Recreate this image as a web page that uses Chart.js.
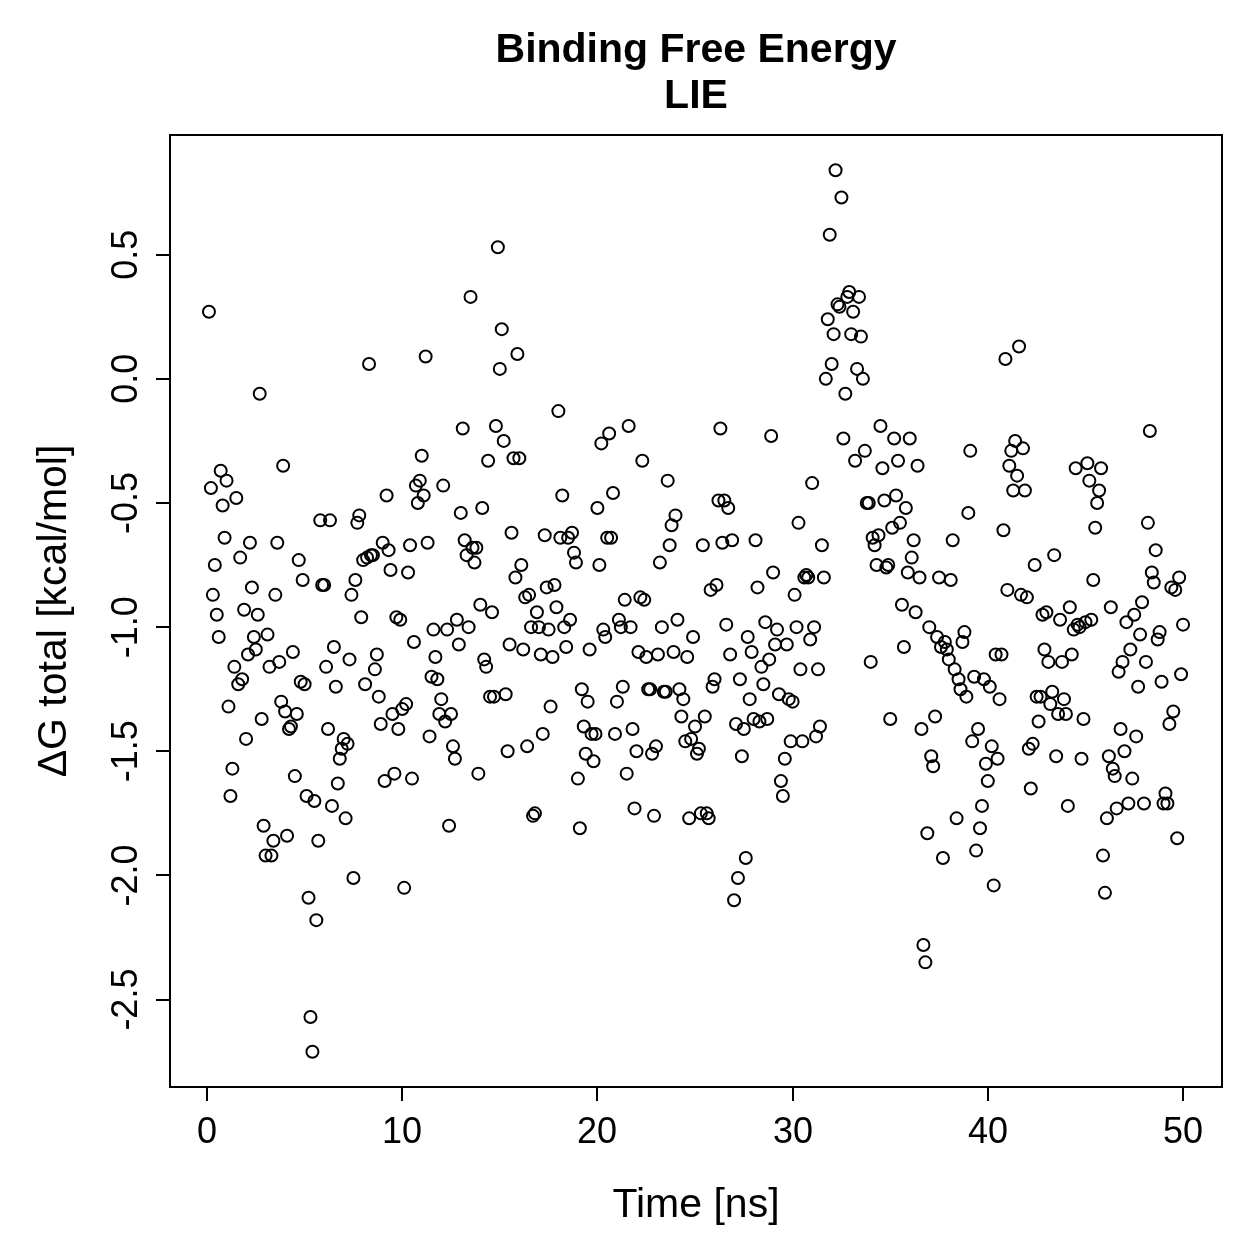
<!DOCTYPE html>
<html>
<head>
<meta charset="utf-8">
<script src="https://cdn.jsdelivr.net/npm/chart.js@4.4.1/dist/chart.umd.min.js"></script>
<style>
  html, body { margin: 0; padding: 0; background: #fff; }
  #wrap { width: 1259px; height: 1259px; }
</style>
</head>
<body>
<div id="wrap"><canvas id="chart" width="1259" height="1259"></canvas></div>
<script>
const TITLE = ["Binding Free Energy", "LIE"]
const X_LABEL = "Time [ns]"
const Y_LABEL = "ΔG total [kcal/mol]"
const X_TICKS = [0, 10, 20, 30, 40, 50]
const Y_TICKS = [-2.5, -2.0, -1.5, -1.0, -0.5, 0.0, 0.5]

// one frame every 0.1 ns
const SAMPLE_STEP_NS = 0.1

// ΔG total per frame, kcal/mol
const DG_TOTAL = [
  0.27, -0.44, -0.87, -0.75, -0.95, -1.04, -0.37, -0.51, -0.64, -0.41,
  -1.32, -1.68, -1.57, -1.16, -0.48, -1.23, -0.72, -1.21, -0.93, -1.45,
  -1.11, -0.66, -0.84, -1.04, -1.09, -0.95, -0.06, -1.37, -1.80, -1.92,
  -1.03, -1.16, -1.92, -1.86, -0.87, -0.66, -1.14, -1.30, -0.35, -1.34,
  -1.84, -1.41, -1.40, -1.10, -1.60, -1.35, -0.73, -1.22, -0.81, -1.23,
  -1.68, -2.09, -2.57, -2.71, -1.70, -2.18, -1.86, -0.57, -0.83, -0.83,
  -1.16, -1.41, -0.57, -1.72, -1.08, -1.24, -1.63, -1.53, -1.49, -1.45,
  -1.77, -1.47, -1.13, -0.87, -2.01, -0.81, -0.58, -0.55, -0.96, -0.73,
  -1.23, -0.72, 0.06, -0.71, -0.71, -1.17, -1.11, -1.28, -1.39, -0.66,
  -1.62, -0.47, -0.69, -0.77, -1.35, -1.59, -0.96, -1.41, -0.97, -1.33,
  -2.05, -1.31, -0.78, -0.67, -1.61, -1.06, -0.43, -0.50, -0.41, -0.31,
  -0.47, 0.09, -0.66, -1.44, -1.20, -1.01, -1.12, -1.21, -1.35, -1.29,
  -0.43, -1.38, -1.01, -1.80, -1.35, -1.48, -1.53, -0.97, -1.07, -0.54,
  -0.20, -0.65, -0.71, -1.00, 0.33, -0.68, -0.74, -0.68, -1.59, -0.91,
  -0.52, -1.13, -1.16, -0.33, -1.28, -0.94, -1.28, -0.19, 0.53, 0.04,
  0.20, -0.25, -1.27, -1.50, -1.07, -0.62, -0.32, -0.80, 0.10, -0.32,
  -0.75, -1.09, -0.88, -1.48, -0.87, -1.00, -1.76, -1.75, -0.94, -1.00,
  -1.11, -1.43, -0.63, -0.84, -1.01, -1.32, -1.12, -0.83, -0.92, -0.13,
  -0.64, -0.47, -1.00, -1.08, -0.64, -0.97, -0.62, -0.70, -0.74, -1.61,
  -1.81, -1.25, -1.40, -1.51, -1.30, -1.09, -1.43, -1.54, -1.43, -0.52,
  -0.75, -0.26, -1.01, -1.04, -0.64, -0.22, -0.64, -0.46, -1.43, -1.30,
  -0.97, -1.00, -1.24, -0.89, -1.59, -0.19, -1.00, -1.41, -1.73, -1.50,
  -1.10, -0.88, -0.33, -0.89, -1.12, -1.25, -1.25, -1.51, -1.76, -1.48,
  -1.11, -0.74, -1.00, -1.26, -1.26, -0.41, -0.67, -0.59, -1.10, -0.55,
  -0.97, -1.25, -1.36, -1.29, -1.46, -1.12, -1.77, -1.45, -1.04, -1.40,
  -1.51, -1.49, -1.75, -0.67, -1.36, -1.75, -1.77, -0.85, -1.24, -1.21,
  -0.83, -0.49, -0.20, -0.66, -0.49, -0.99, -0.52, -1.11, -0.65, -2.10,
  -1.39, -2.01, -1.21, -1.52, -1.41, -1.93, -1.04, -1.29, -1.10, -1.37,
  -0.65, -0.84, -1.38, -1.16, -1.23, -0.98, -1.37, -1.13, -0.23, -0.78,
  -1.07, -1.01, -1.27, -1.62, -1.68, -1.53, -1.07, -1.29, -1.46, -1.30,
  -0.87, -1.00, -0.58, -1.17, -1.46, -0.80, -0.79, -0.80, -1.05, -0.42,
  -1.00, -1.44, -1.17, -1.40, -0.67, -0.80, 0.00, 0.24, 0.58, 0.06,
  0.18, 0.84, 0.30, 0.29, 0.73, -0.24, -0.06, 0.33, 0.35, 0.18,
  0.27, -0.33, 0.04, 0.33, 0.17, 0.00, -0.29, -0.50, -0.50, -1.14,
  -0.64, -0.67, -0.75, -0.63, -0.19, -0.36, -0.49, -0.76, -0.75, -1.37,
  -0.60, -0.24, -0.47, -0.33, -0.58, -0.91, -1.08, -0.52, -0.78, -0.24,
  -0.72, -0.65, -0.94, -0.35, -0.80, -1.41, -2.28, -2.35, -1.83, -1.00,
  -1.52, -1.56, -1.36, -1.04, -0.80, -1.08, -1.93, -1.06, -1.09, -1.13,
  -0.81, -0.65, -1.17, -1.77, -1.21, -1.25, -1.06, -1.02, -1.28, -0.54,
  -0.29, -1.46, -1.20, -1.90, -1.41, -1.81, -1.72, -1.21, -1.55, -1.62,
  -1.24, -1.48, -2.04, -1.11, -1.53, -1.29, -1.11, -0.61, 0.08, -0.85,
  -0.35, -0.29, -0.45, -0.25, -0.39, 0.13, -0.87, -0.28, -0.45, -0.88,
  -1.49, -1.65, -1.47, -0.75, -1.28, -1.38, -1.28, -0.95, -1.09, -0.94,
  -1.14, -1.31, -1.26, -0.71, -1.52, -1.35, -0.97, -1.14, -1.29, -1.35,
  -1.72, -0.92, -1.11, -1.01, -0.36, -0.99, -1.00, -1.53, -1.37, -0.98,
  -0.34, -0.41, -0.97, -0.81, -0.60, -0.50, -0.45, -0.36, -1.92, -2.07,
  -1.77, -1.52, -0.92, -1.57, -1.60, -1.73, -1.18, -1.41, -1.14, -1.50,
  -0.98, -1.71, -1.09, -1.61, -0.95, -1.44, -1.24, -1.03, -0.90, -1.71,
  -1.14, -0.58, -0.21, -0.78, -0.82, -0.69, -1.05, -1.02, -1.22, -1.71,
  -1.67, -1.71, -1.39, -0.84, -1.34, -0.85, -1.85, -0.80, -1.19, -0.99
]

const points = DG_TOTAL.map((v, i) => ({ x: +((i + 1) * SAMPLE_STEP_NS).toFixed(1), y: v }))

// R pads each axis range by 4%
function rRange(vals) {
  const lo = Math.min(...vals), hi = Math.max(...vals)
  const pad = (hi - lo) * 0.04
  return [lo - pad, hi + pad]
}
const [xMin, xMax] = rRange(points.map((p) => p.x))
const [yMin, yMax] = rRange(DG_TOTAL)

const FONT = "'Liberation Sans', Arial, Helvetica, sans-serif"

// base-graphics style frame, ticks and labels
const rAxes = {
  id: "rAxes",
  afterDraw(chart) {
    const { ctx, chartArea: a } = chart
    const x = chart.scales.x
    const y = chart.scales.y
    const tick = 14

    ctx.save()
    ctx.strokeStyle = "#000"
    ctx.fillStyle = "#000"
    ctx.lineWidth = 2
    ctx.strokeRect(a.left, a.top, a.right - a.left, a.bottom - a.top)

    ctx.font = `36px ${FONT}`
    ctx.textAlign = "center"
    ctx.textBaseline = "alphabetic"
    ctx.beginPath()
    X_TICKS.forEach((v) => {
      const px = Math.round(x.getPixelForValue(v))
      ctx.moveTo(px, a.bottom)
      ctx.lineTo(px, a.bottom + tick)
      ctx.fillText(String(v), px, a.bottom + 56)
    })
    Y_TICKS.forEach((v) => {
      const py = Math.round(y.getPixelForValue(v))
      ctx.moveTo(a.left, py)
      ctx.lineTo(a.left - tick, py)
    })
    ctx.stroke()

    Y_TICKS.forEach((v) => {
      const py = y.getPixelForValue(v)
      ctx.save()
      ctx.translate(a.left - 33, py)
      ctx.rotate(-Math.PI / 2)
      ctx.fillText(v.toFixed(1), 0, 0)
      ctx.restore()
    })

    const cx = (a.left + a.right) / 2
    const cy = (a.top + a.bottom) / 2
    ctx.font = `41px ${FONT}`
    ctx.fillText(X_LABEL, cx, a.bottom + 130)
    ctx.save()
    ctx.translate(a.left - 104, cy)
    ctx.rotate(-Math.PI / 2)
    ctx.fillText(Y_LABEL, 0, 0)
    ctx.restore()

    ctx.font = `bold 41px ${FONT}`
    ctx.fillText(TITLE[0], cx, 62)
    ctx.fillText(TITLE[1], cx, 108)
    ctx.restore()
  }
}

new Chart(document.getElementById("chart"), {
  type: "scatter",
  data: {
    datasets: [{
      data: points,
      pointStyle: "circle",
      pointRadius: 6,
      pointHoverRadius: 6,
      borderColor: "#000",
      borderWidth: 2,
      backgroundColor: "rgba(0,0,0,0)"
    }]
  },
  options: {
    responsive: false,
    devicePixelRatio: 1,
    animation: false,
    layout: { padding: { left: 170, right: 37, top: 135, bottom: 172 } },
    plugins: { legend: { display: false }, tooltip: { enabled: false } },
    scales: {
      x: { type: "linear", min: xMin, max: xMax, display: false },
      y: { type: "linear", min: yMin, max: yMax, display: false }
    }
  },
  plugins: [rAxes]
})
</script>
</body>
</html>
